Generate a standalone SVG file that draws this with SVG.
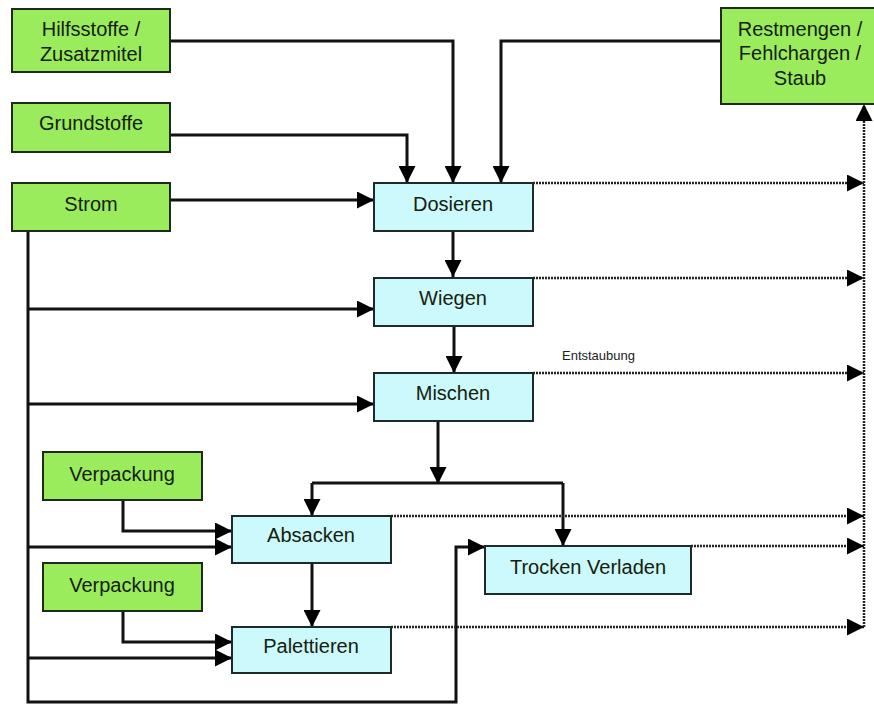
<svg xmlns="http://www.w3.org/2000/svg" width="874" height="704" viewBox="0 0 874 704">
<style>
.g{fill:#9bec5c;stroke:#1e2a1a;stroke-width:2}
.b{fill:#ccf9fb;stroke:#1e2a2a;stroke-width:2}
.t{font-family:"Liberation Sans",Arial,sans-serif;font-size:20px;fill:#15200f;text-anchor:middle}
.s{font-family:"Liberation Sans",Arial,sans-serif;font-size:13px;fill:#222}
.c{fill:none;stroke:#111;stroke-width:3;stroke-linejoin:miter}
.d{fill:none;stroke:#222;stroke-width:2.5;stroke-dasharray:2 1}
</style>
<defs>
<marker id="a" markerUnits="userSpaceOnUse" markerWidth="17" markerHeight="17" refX="17" refY="8.5" orient="auto" viewBox="0 0 17 17">
<path d="M0,0 L17,8.5 L0,17 z" fill="#000"/>
</marker>
</defs>
<rect width="874" height="704" fill="#fff"/>
<g id="connectors">
<path class="c" d="M170,41 H453 V183" marker-end="url(#a)"/>
<path class="c" d="M170,135 H407 V183" marker-end="url(#a)"/>
<path class="c" d="M721,41 H501 V183" marker-end="url(#a)"/>
<path class="c" d="M170,200 H374" marker-end="url(#a)"/>
<path class="c" d="M453,231 V277" marker-end="url(#a)"/>
<path class="c" d="M28,231 V702 H456 V547 H485" marker-end="url(#a)"/>
<path class="c" d="M28,309 H374" marker-end="url(#a)"/>
<path class="c" d="M28,404 H374" marker-end="url(#a)"/>
<path class="c" d="M454,326 V373" marker-end="url(#a)"/>
<path class="c" d="M438,421 V484" marker-end="url(#a)"/>
<path class="c" d="M312,483 H563"/>
<path class="c" d="M312,483 V516" marker-end="url(#a)"/>
<path class="c" d="M563,483 V546" marker-end="url(#a)"/>
<path class="c" d="M123,500 V531 H232" marker-end="url(#a)"/>
<path class="c" d="M28,547 H232" marker-end="url(#a)"/>
<path class="c" d="M312,563 V627" marker-end="url(#a)"/>
<path class="c" d="M123,611 V642 H232" marker-end="url(#a)"/>
<path class="c" d="M28,658 H232" marker-end="url(#a)"/>
<path class="d" d="M533,183 H864" marker-end="url(#a)"/>
<path class="d" d="M533,278 H864" marker-end="url(#a)"/>
<path class="d" d="M533,373 H864" marker-end="url(#a)"/>
<path class="d" d="M391,516 H864" marker-end="url(#a)"/>
<path class="d" d="M691,546 H864" marker-end="url(#a)"/>
<path class="d" d="M391,627 H864" marker-end="url(#a)"/>
<path class="d" d="M864,627 V104" marker-end="url(#a)"/>
</g>
<g id="hilfsstoffe"><rect class="g" x="12" y="9" width="158" height="63"/><text class="t" x="91" y="36">Hilfsstoffe /</text><text class="t" x="91" y="61">Zusatzmitel</text></g>
<g id="grundstoffe"><rect class="g" x="12" y="103" width="158" height="49"/><text class="t" x="91" y="130">Grundstoffe</text></g>
<g id="strom"><rect class="g" x="12" y="183" width="158" height="48"/><text class="t" x="91" y="211">Strom</text></g>
<g id="restmengen"><rect class="g" x="721" y="8" width="158" height="96"/><text class="t" x="800" y="36">Restmengen /</text><text class="t" x="800" y="60">Fehlchargen /</text><text class="t" x="800" y="85">Staub</text></g>
<g id="dosieren"><rect class="b" x="374" y="183" width="159" height="48"/><text class="t" x="453" y="211">Dosieren</text></g>
<g id="wiegen"><rect class="b" x="374" y="278" width="159" height="48"/><text class="t" x="453" y="305">Wiegen</text></g>
<g id="mischen"><rect class="b" x="374" y="373" width="159" height="48"/><text class="t" x="453" y="400">Mischen</text></g>
<g id="verpackung1"><rect class="g" x="43" y="452" width="159" height="48"/><text class="t" x="122" y="481">Verpackung</text></g>
<g id="absacken"><rect class="b" x="232" y="516" width="159" height="47"/><text class="t" x="311" y="542">Absacken</text></g>
<g id="trocken"><rect class="b" x="485" y="546" width="206" height="48"/><text class="t" x="588" y="574">Trocken Verladen</text></g>
<g id="verpackung2"><rect class="g" x="43" y="563" width="159" height="48"/><text class="t" x="122" y="592">Verpackung</text></g>
<g id="palettieren"><rect class="b" x="232" y="627" width="159" height="46"/><text class="t" x="311" y="653">Palettieren</text></g>
<text class="s" x="562" y="360">Entstaubung</text>
</svg>
